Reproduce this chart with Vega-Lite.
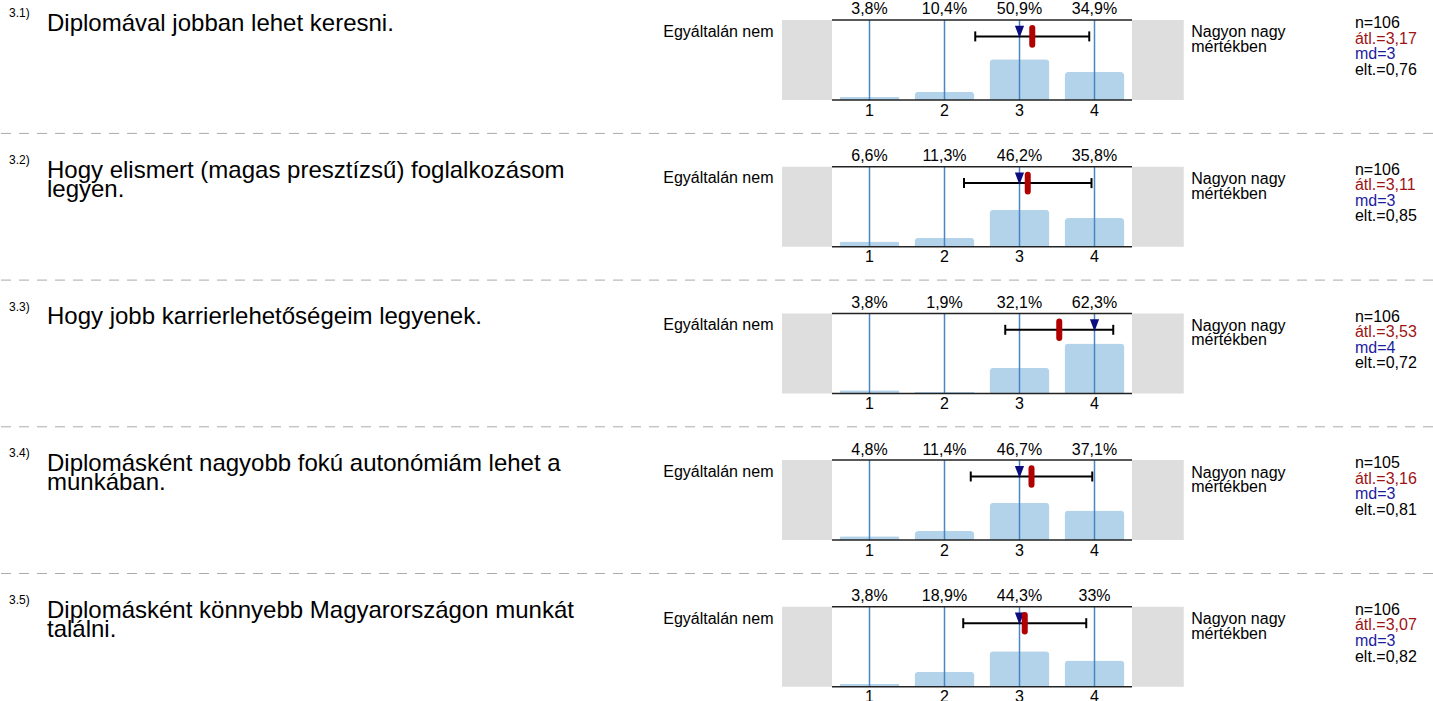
{
  "$schema": "https://vega.github.io/schema/vega-lite/v6.json",
  "padding": 0,
  "autosize": {"type": "pad"},
  "background": "white",
  "config": {"view": {"stroke": null}, "text": {"font": "Liberation Sans", "fontSize": 16, "color": "#000000"}},
  "data": {"values": [
    {"id": "3.1", "cat": 1, "pct": 3.8, "pl": "3,8%", "sup": "3.1)", "q": ["Diplomával jobban lehet keresni."], "mean": 3.17, "lo": 2.41, "hi": 3.93, "md": 3, "nT": "n=106", "mT": "átl.=3,17", "mdT": "md=3", "sdT": "elt.=0,76"},
    {"id": "3.1", "cat": 2, "pct": 10.4, "pl": "10,4%"},
    {"id": "3.1", "cat": 3, "pct": 50.9, "pl": "50,9%"},
    {"id": "3.1", "cat": 4, "pct": 34.9, "pl": "34,9%"},
    {"id": "3.2", "cat": 1, "pct": 6.6, "pl": "6,6%", "sup": "3.2)", "q": ["Hogy elismert (magas presztízsű) foglalkozásom", "legyen."], "mean": 3.11, "lo": 2.26, "hi": 3.96, "md": 3, "nT": "n=106", "mT": "átl.=3,11", "mdT": "md=3", "sdT": "elt.=0,85"},
    {"id": "3.2", "cat": 2, "pct": 11.3, "pl": "11,3%"},
    {"id": "3.2", "cat": 3, "pct": 46.2, "pl": "46,2%"},
    {"id": "3.2", "cat": 4, "pct": 35.8, "pl": "35,8%"},
    {"id": "3.3", "cat": 1, "pct": 3.8, "pl": "3,8%", "sup": "3.3)", "q": ["Hogy jobb karrierlehetőségeim legyenek."], "mean": 3.53, "lo": 2.81, "hi": 4.25, "md": 4, "nT": "n=106", "mT": "átl.=3,53", "mdT": "md=4", "sdT": "elt.=0,72"},
    {"id": "3.3", "cat": 2, "pct": 1.9, "pl": "1,9%"},
    {"id": "3.3", "cat": 3, "pct": 32.1, "pl": "32,1%"},
    {"id": "3.3", "cat": 4, "pct": 62.3, "pl": "62,3%"},
    {"id": "3.4", "cat": 1, "pct": 4.8, "pl": "4,8%", "sup": "3.4)", "q": ["Diplomásként nagyobb fokú autonómiám lehet a", "munkában."], "mean": 3.16, "lo": 2.35, "hi": 3.97, "md": 3, "nT": "n=105", "mT": "átl.=3,16", "mdT": "md=3", "sdT": "elt.=0,81"},
    {"id": "3.4", "cat": 2, "pct": 11.4, "pl": "11,4%"},
    {"id": "3.4", "cat": 3, "pct": 46.7, "pl": "46,7%"},
    {"id": "3.4", "cat": 4, "pct": 37.1, "pl": "37,1%"},
    {"id": "3.5", "cat": 1, "pct": 3.8, "pl": "3,8%", "sup": "3.5)", "q": ["Diplomásként könnyebb Magyarországon munkát", "találni."], "mean": 3.07, "lo": 2.25, "hi": 3.89, "md": 3, "nT": "n=106", "mT": "átl.=3,07", "mdT": "md=3", "sdT": "elt.=0,82"},
    {"id": "3.5", "cat": 2, "pct": 18.9, "pl": "18,9%"},
    {"id": "3.5", "cat": 3, "pct": 44.3, "pl": "44,3%"},
    {"id": "3.5", "cat": 4, "pct": 33, "pl": "33%"}
  ]},
  "facet": {"row": {"field": "id", "type": "nominal", "header": null}},
  "spacing": 66.7,
  "bounds": "flush",
  "spec": {
    "width": 300,
    "height": 80,
    "layer": [
      {"transform": [{"filter": "datum.cat == 1"}],
       "mark": {"type": "rule", "color": "#aaaaaa", "strokeWidth": 1, "strokeDash": [10, 8]},
       "encoding": {"x": {"datum": -10.58, "type": "quantitative", "scale": {"domain": [0.5, 4.5], "nice": false, "zero": false, "padding": 0}, "axis": null}, "x2": {"datum": 8.527},
                    "y": {"datum": -41.75, "type": "quantitative", "scale": {"domain": [0, 100], "nice": false, "zero": false, "padding": 0}, "axis": null}}},
      {"transform": [{"filter": "datum.cat == 1"}],
       "mark": {"type": "rule", "color": "#ffffff", "strokeWidth": 1, "opacity": 0},
       "encoding": {"x": {"datum": -10.58, "type": "quantitative", "scale": {"domain": [0.5, 4.5], "nice": false, "zero": false, "padding": 0}, "axis": null}, "x2": {"datum": 8.527},
                    "y": {"datum": 124.1, "type": "quantitative", "scale": {"domain": [0, 100], "nice": false, "zero": false, "padding": 0}, "axis": null}}},
      {"transform": [{"filter": "datum.cat == 1"}],
       "mark": {"type": "rect", "color": "#dedede"},
       "encoding": {"x": {"datum": -0.1667, "type": "quantitative", "scale": {"domain": [0.5, 4.5], "nice": false, "zero": false, "padding": 0}, "axis": null}, "x2": {"datum": 0.5},
                    "y": {"datum": 0, "type": "quantitative", "scale": {"domain": [0, 100], "nice": false, "zero": false, "padding": 0}, "axis": null}, "y2": {"datum": 100}}},
      {"transform": [{"filter": "datum.cat == 1"}],
       "mark": {"type": "rect", "color": "#dedede"},
       "encoding": {"x": {"datum": 4.5, "type": "quantitative", "scale": {"domain": [0.5, 4.5], "nice": false, "zero": false, "padding": 0}, "axis": null}, "x2": {"datum": 5.19},
                    "y": {"datum": 0, "type": "quantitative", "scale": {"domain": [0, 100], "nice": false, "zero": false, "padding": 0}, "axis": null}, "y2": {"datum": 100}}},
      {"mark": {"type": "bar", "orient": "vertical", "width": 60, "color": "#b3d3ea", "cornerRadiusTopLeft": 4, "cornerRadiusTopRight": 4},
       "encoding": {"x": {"field": "cat", "type": "quantitative", "scale": {"domain": [0.5, 4.5], "nice": false, "zero": false, "padding": 0}, "axis": null},
                    "y": {"field": "pct", "type": "quantitative", "scale": {"domain": [0, 100], "nice": false, "zero": false, "padding": 0}, "axis": null}}},
      {"mark": {"type": "rule", "color": "#4a86c4", "strokeWidth": 1.5},
       "encoding": {"x": {"field": "cat", "type": "quantitative", "scale": {"domain": [0.5, 4.5], "nice": false, "zero": false, "padding": 0}, "axis": null},
                    "y": {"datum": 0, "type": "quantitative", "scale": {"domain": [0, 100], "nice": false, "zero": false, "padding": 0}, "axis": null}, "y2": {"datum": 100}}},
      {"transform": [{"filter": "datum.cat == 1"}],
       "mark": {"type": "rule", "color": "#222222", "strokeWidth": 1.5},
       "encoding": {"x": {"datum": 0.5, "type": "quantitative", "scale": {"domain": [0.5, 4.5], "nice": false, "zero": false, "padding": 0}, "axis": null}, "x2": {"datum": 4.5},
                    "y": {"datum": 100, "type": "quantitative", "scale": {"domain": [0, 100], "nice": false, "zero": false, "padding": 0}, "axis": null}}},
      {"transform": [{"filter": "datum.cat == 1"}],
       "mark": {"type": "rule", "color": "#222222", "strokeWidth": 1.5},
       "encoding": {"x": {"datum": 0.5, "type": "quantitative", "scale": {"domain": [0.5, 4.5], "nice": false, "zero": false, "padding": 0}, "axis": null}, "x2": {"datum": 4.5},
                    "y": {"datum": 0, "type": "quantitative", "scale": {"domain": [0, 100], "nice": false, "zero": false, "padding": 0}, "axis": null}}},
      {"transform": [{"filter": "datum.cat == 1"}],
       "mark": {"type": "rule", "color": "#000000", "strokeWidth": 2},
       "encoding": {"x": {"field": "lo", "type": "quantitative", "scale": {"domain": [0.5, 4.5], "nice": false, "zero": false, "padding": 0}, "axis": null}, "x2": {"field": "hi"},
                    "y": {"datum": 79.5, "type": "quantitative", "scale": {"domain": [0, 100], "nice": false, "zero": false, "padding": 0}, "axis": null}}},
      {"transform": [{"filter": "datum.cat == 1"}],
       "mark": {"type": "rule", "color": "#000000", "strokeWidth": 2},
       "encoding": {"x": {"field": "lo", "type": "quantitative", "scale": {"domain": [0.5, 4.5], "nice": false, "zero": false, "padding": 0}, "axis": null},
                    "y": {"datum": 73.25, "type": "quantitative", "scale": {"domain": [0, 100], "nice": false, "zero": false, "padding": 0}, "axis": null}, "y2": {"datum": 85.75}}},
      {"transform": [{"filter": "datum.cat == 1"}],
       "mark": {"type": "rule", "color": "#000000", "strokeWidth": 2},
       "encoding": {"x": {"field": "hi", "type": "quantitative", "scale": {"domain": [0.5, 4.5], "nice": false, "zero": false, "padding": 0}, "axis": null},
                    "y": {"datum": 73.25, "type": "quantitative", "scale": {"domain": [0, 100], "nice": false, "zero": false, "padding": 0}, "axis": null}, "y2": {"datum": 85.75}}},
      {"transform": [{"filter": "datum.cat == 1"}],
       "mark": {"type": "point", "shape": "M-0.75,-1L0.75,-1L0,1Z", "filled": true, "opacity": 1, "color": "#0c0c80", "size": 150},
       "encoding": {"x": {"field": "md", "type": "quantitative", "scale": {"domain": [0.5, 4.5], "nice": false, "zero": false, "padding": 0}, "axis": null},
                    "y": {"datum": 85.1, "type": "quantitative", "scale": {"domain": [0, 100], "nice": false, "zero": false, "padding": 0}, "axis": null}}},
      {"transform": [{"filter": "datum.cat == 1"}],
       "mark": {"type": "rule", "color": "#b00000", "strokeWidth": 6, "strokeCap": "round"},
       "encoding": {"x": {"field": "mean", "type": "quantitative", "scale": {"domain": [0.5, 4.5], "nice": false, "zero": false, "padding": 0}, "axis": null},
                    "y": {"datum": 69.1, "type": "quantitative", "scale": {"domain": [0, 100], "nice": false, "zero": false, "padding": 0}, "axis": null}, "y2": {"datum": 89.9}}},
      {"mark": {"type": "text", "align": "center", "baseline": "alphabetic", "fontSize": 16},
       "encoding": {"x": {"field": "cat", "type": "quantitative", "scale": {"domain": [0.5, 4.5], "nice": false, "zero": false, "padding": 0}, "axis": null},
                    "y": {"datum": 107, "type": "quantitative", "scale": {"domain": [0, 100], "nice": false, "zero": false, "padding": 0}, "axis": null},
                    "text": {"field": "pl", "type": "nominal"}}},
      {"mark": {"type": "text", "align": "center", "baseline": "alphabetic", "fontSize": 16},
       "encoding": {"x": {"field": "cat", "type": "quantitative", "scale": {"domain": [0.5, 4.5], "nice": false, "zero": false, "padding": 0}, "axis": null},
                    "y": {"datum": -19.6, "type": "quantitative", "scale": {"domain": [0, 100], "nice": false, "zero": false, "padding": 0}, "axis": null},
                    "text": {"field": "cat", "type": "nominal"}}},
      {"transform": [{"filter": "datum.cat == 1"}],
       "mark": {"type": "text", "align": "right", "baseline": "alphabetic", "fontSize": 16, "text": "Egyáltalán nem"},
       "encoding": {"x": {"datum": -0.28, "type": "quantitative", "scale": {"domain": [0.5, 4.5], "nice": false, "zero": false, "padding": 0}, "axis": null},
                    "y": {"datum": 79.1, "type": "quantitative", "scale": {"domain": [0, 100], "nice": false, "zero": false, "padding": 0}, "axis": null}}},
      {"transform": [{"filter": "datum.cat == 1"}],
       "mark": {"type": "text", "align": "left", "baseline": "alphabetic", "fontSize": 16, "lineHeight": 14.5, "text": ["Nagyon nagy", "mértékben"]},
       "encoding": {"x": {"datum": 5.29, "type": "quantitative", "scale": {"domain": [0.5, 4.5], "nice": false, "zero": false, "padding": 0}, "axis": null},
                    "y": {"datum": 78.25, "type": "quantitative", "scale": {"domain": [0, 100], "nice": false, "zero": false, "padding": 0}, "axis": null}}},
      {"transform": [{"filter": "datum.cat == 1"}],
       "mark": {"type": "text", "align": "left", "baseline": "alphabetic", "fontSize": 16, "color": "#000000"},
       "encoding": {"x": {"datum": 7.473, "type": "quantitative", "scale": {"domain": [0.5, 4.5], "nice": false, "zero": false, "padding": 0}, "axis": null},
                    "y": {"datum": 89.75, "type": "quantitative", "scale": {"domain": [0, 100], "nice": false, "zero": false, "padding": 0}, "axis": null},
                    "text": {"field": "nT", "type": "nominal"}}},
      {"transform": [{"filter": "datum.cat == 1"}],
       "mark": {"type": "text", "align": "left", "baseline": "alphabetic", "fontSize": 16, "color": "#9e1414"},
       "encoding": {"x": {"datum": 7.473, "type": "quantitative", "scale": {"domain": [0.5, 4.5], "nice": false, "zero": false, "padding": 0}, "axis": null},
                    "y": {"datum": 70.4, "type": "quantitative", "scale": {"domain": [0, 100], "nice": false, "zero": false, "padding": 0}, "axis": null},
                    "text": {"field": "mT", "type": "nominal"}}},
      {"transform": [{"filter": "datum.cat == 1"}],
       "mark": {"type": "text", "align": "left", "baseline": "alphabetic", "fontSize": 16, "color": "#1c1ca0"},
       "encoding": {"x": {"datum": 7.473, "type": "quantitative", "scale": {"domain": [0.5, 4.5], "nice": false, "zero": false, "padding": 0}, "axis": null},
                    "y": {"datum": 51, "type": "quantitative", "scale": {"domain": [0, 100], "nice": false, "zero": false, "padding": 0}, "axis": null},
                    "text": {"field": "mdT", "type": "nominal"}}},
      {"transform": [{"filter": "datum.cat == 1"}],
       "mark": {"type": "text", "align": "left", "baseline": "alphabetic", "fontSize": 16, "color": "#000000"},
       "encoding": {"x": {"datum": 7.473, "type": "quantitative", "scale": {"domain": [0.5, 4.5], "nice": false, "zero": false, "padding": 0}, "axis": null},
                    "y": {"datum": 31.6, "type": "quantitative", "scale": {"domain": [0, 100], "nice": false, "zero": false, "padding": 0}, "axis": null},
                    "text": {"field": "sdT", "type": "nominal"}}},
      {"transform": [{"filter": "datum.cat == 1"}],
       "mark": {"type": "text", "align": "left", "baseline": "alphabetic", "fontSize": 24, "lineHeight": 19.5},
       "encoding": {"x": {"datum": -9.967, "type": "quantitative", "scale": {"domain": [0.5, 4.5], "nice": false, "zero": false, "padding": 0}, "axis": null},
                    "y": {"datum": 86.5, "type": "quantitative", "scale": {"domain": [0, 100], "nice": false, "zero": false, "padding": 0}, "axis": null},
                    "text": {"field": "q", "type": "nominal"}}},
      {"transform": [{"filter": "datum.cat == 1"}],
       "mark": {"type": "text", "align": "left", "baseline": "alphabetic", "fontSize": 12},
       "encoding": {"x": {"datum": -10.473, "type": "quantitative", "scale": {"domain": [0.5, 4.5], "nice": false, "zero": false, "padding": 0}, "axis": null},
                    "y": {"datum": 103.5, "type": "quantitative", "scale": {"domain": [0, 100], "nice": false, "zero": false, "padding": 0}, "axis": null},
                    "text": {"field": "sup", "type": "nominal"}}}
    ]
  }
}
